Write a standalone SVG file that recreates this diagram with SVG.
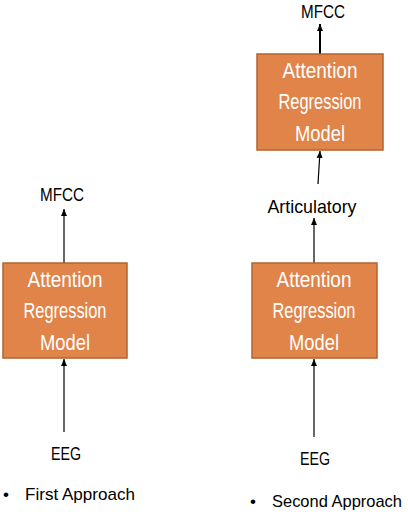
<svg xmlns="http://www.w3.org/2000/svg" width="408" height="514" viewBox="0 0 408 514">
<style>
.box{fill:#E0844A;stroke:#B0642E;stroke-width:1.5}
.bt{font-family:"Liberation Sans",Arial,sans-serif;font-size:22px;fill:#ffffff;text-anchor:middle}
.lb{font-family:"Liberation Sans",Arial,sans-serif;font-size:19px;fill:#000000;text-anchor:middle}
.lt{font-family:"Liberation Sans",Arial,sans-serif;font-size:17px;fill:#000000}
.ln{stroke:#000;stroke-width:1.2;fill:none}
</style>
<defs>
<marker id="ah" markerWidth="8" markerHeight="8" refX="7" refY="4" orient="auto" markerUnits="userSpaceOnUse">
<path d="M0,1 L7,4 L0,7 Z" fill="#000"/>
</marker>
</defs>
<g id="connectors">
<line class="ln" x1="64" y1="432" x2="64" y2="359" marker-end="url(#ah)"/>
<line class="ln" x1="64" y1="263" x2="64" y2="209" marker-end="url(#ah)"/>
<line class="ln" x1="314" y1="437" x2="314" y2="359" marker-end="url(#ah)"/>
<line class="ln" x1="314" y1="263" x2="314" y2="218" marker-end="url(#ah)"/>
<line class="ln" x1="318" y1="184" x2="320" y2="151" marker-end="url(#ah)"/>
<line class="ln" x1="320" y1="54" x2="320" y2="24" style="stroke-width:2" marker-end="url(#ah)"/>
</g>
<g id="left-model">
<rect class="box" x="3" y="263" width="124" height="95"/>
<text class="bt" x="65" y="287" textLength="75" lengthAdjust="spacingAndGlyphs">Attention</text>
<text class="bt" x="65" y="318" textLength="83" lengthAdjust="spacingAndGlyphs">Regression</text>
<text class="bt" x="65" y="350" textLength="50" lengthAdjust="spacingAndGlyphs">Model</text>
</g>
<g id="left-mfcc"><text class="lb" x="62" y="201" textLength="44" lengthAdjust="spacingAndGlyphs">MFCC</text></g>
<g id="left-eeg"><text class="lb" x="66" y="460" textLength="30" lengthAdjust="spacingAndGlyphs">EEG</text></g>
<g id="left-caption"><text class="lt" x="3" y="500">•</text><text class="lt" x="25" y="500" textLength="110" lengthAdjust="spacingAndGlyphs">First Approach</text></g>
<g id="right-model-bottom">
<rect class="box" x="252" y="263" width="125" height="95"/>
<text class="bt" x="314" y="287" textLength="75" lengthAdjust="spacingAndGlyphs">Attention</text>
<text class="bt" x="314" y="318" textLength="83" lengthAdjust="spacingAndGlyphs">Regression</text>
<text class="bt" x="314" y="350" textLength="50" lengthAdjust="spacingAndGlyphs">Model</text>
</g>
<g id="right-model-top">
<rect class="box" x="257" y="54" width="126" height="96"/>
<text class="bt" x="320" y="78" textLength="75" lengthAdjust="spacingAndGlyphs">Attention</text>
<text class="bt" x="320" y="109" textLength="83" lengthAdjust="spacingAndGlyphs">Regression</text>
<text class="bt" x="320" y="141" textLength="50" lengthAdjust="spacingAndGlyphs">Model</text>
</g>
<g id="right-articulatory"><text class="lb" x="312" y="213" textLength="89" lengthAdjust="spacingAndGlyphs">Articulatory</text></g>
<g id="right-mfcc"><text class="lb" x="323" y="18" textLength="44" lengthAdjust="spacingAndGlyphs">MFCC</text></g>
<g id="right-eeg"><text class="lb" x="315" y="465" textLength="30" lengthAdjust="spacingAndGlyphs">EEG</text></g>
<g id="right-caption"><text class="lt" x="250" y="507">•</text><text class="lt" x="272" y="507" textLength="130" lengthAdjust="spacingAndGlyphs">Second Approach</text></g>
</svg>
